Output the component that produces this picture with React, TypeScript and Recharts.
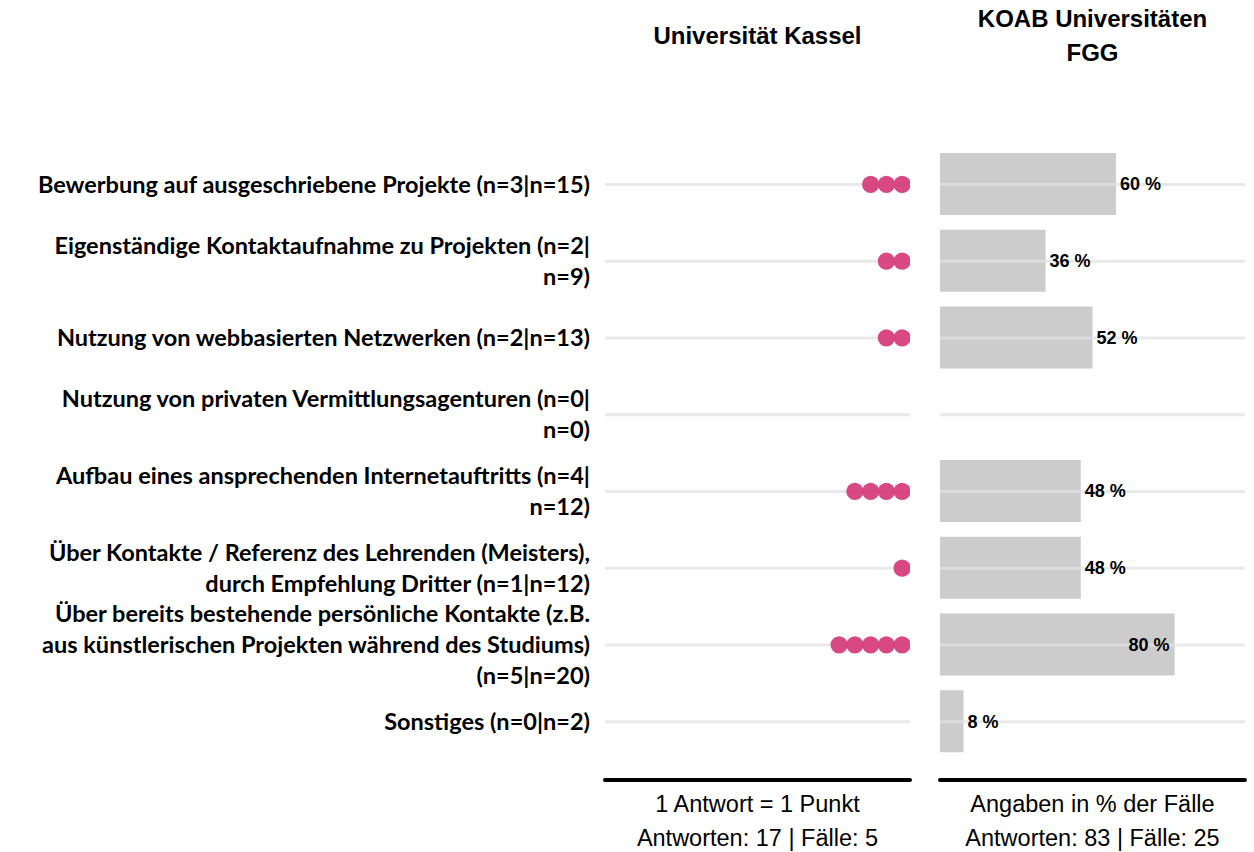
/**
 * Vergleich Projektakquise: Universität Kassel (Punkte) vs. KOAB FGG (Balken)
 */

import React from 'react'
import {
  ComposedChart,
  BarChart,
  Bar,
  Scatter,
  XAxis,
  YAxis,
  ReferenceLine,
  LabelList
} from 'recharts'

// Kategorien (Zeilenumbrüche wie im Original)
const categories = [
  'Bewerbung auf ausgeschriebene Projekte (n=3|n=15)',
  'Eigenständige Kontaktaufnahme zu Projekten (n=2|\nn=9)',
  'Nutzung von webbasierten Netzwerken (n=2|n=13)',
  'Nutzung von privaten Vermittlungsagenturen (n=0|\nn=0)',
  'Aufbau eines ansprechenden Internetauftritts (n=4|\nn=12)',
  'Über Kontakte / Referenz des Lehrenden (Meisters),\ndurch Empfehlung Dritter (n=1|n=12)',
  'Über bereits bestehende persönliche Kontakte (z.B.\naus künstlerischen Projekten während des Studiums)\n(n=5|n=20)',
  'Sonstiges (n=0|n=2)'
]

// Universität Kassel: Anzahl Antworten (1 Antwort = 1 Punkt)
const kasselCounts = [3, 2, 2, 0, 4, 1, 5, 0]

// KOAB Universitäten FGG: Angaben in % der Fälle
const koabPercent = [60, 36, 52, 0, 48, 48, 80, 8]

const panelTitles = ['Universität Kassel', 'KOAB Universitäten\nFGG']
const kasselFooter = ['1 Antwort = 1 Punkt', 'Antworten: 17 | Fälle: 5']
const koabFooter = ['Angaben in % der Fälle', 'Antworten: 83 | Fälle: 25']

const maxDots = Math.max(...kasselCounts)
const dotKeys = Array.from({ length: maxDots }, (_, i) => `dot${i}`)

// one row per category, dotN holds slot index N if that answer exists
const rows = categories.map((cat, i) => {
  const row: Record<string, any> = { cat, koab: koabPercent[i] }
  dotKeys.forEach((key, k) => {
    row[key] = k < kasselCounts[i] ? k : null
  })
  return row
})

const LABEL_FONT = 'Lato, "Open Sans", sans-serif'
const ARIAL = '"Liberation Sans", Arial, sans-serif'
const DOT_COLOR = '#d63f7d'
const BAR_COLOR = '#cccccc'
const GRID_COLOR = '#e2e2e2'

const TOP = 146
const AXIS_HEIGHT = 72
const CHART_HEIGHT = 852

const axisLineStyle = { stroke: '#000', strokeWidth: 4, strokeLinecap: 'round' as const }

// Mehrzeiliges Kategorie-Label links
const CategoryTick = ({ x, y, payload }: any) => {
  const lines = String(payload.value).split('\n')
  const lineHeight = 31
  const first = y - ((lines.length - 1) * lineHeight) / 2
  return (
    <text
      x={x}
      y={first}
      textAnchor="end"
      fontFamily={LABEL_FONT}
      fontWeight={700}
      fontSize={23.5}
      fill="#000"
    >
      {lines.map((line, i) => (
        <tspan key={i} x={x} y={first + i * lineHeight} dy="0.35em">
          {line}
        </tspan>
      ))}
    </text>
  )
}

// Zweizeilige Fußnote unter der Achse
const FooterLabel = ({ viewBox, lines }: any) => {
  if (!viewBox) return null
  const cx = viewBox.x + viewBox.width / 2
  return (
    <text textAnchor="middle" fontFamily={ARIAL} fontSize={23.5} fill="#000">
      {lines.map((line: string, i: number) => (
        <tspan key={i} x={cx} y={viewBox.y + 24 + i * 34} dy="0.35em">
          {line}
        </tspan>
      ))}
    </text>
  )
}

const DotShape = (props: any) => {
  const { cx, cy } = props
  if (cx == null || cy == null || Number.isNaN(cx)) return <g />
  return <circle cx={cx} cy={cy} r={8.6} fill={DOT_COLOR} fillOpacity={0.95} />
}

const PercentLabel = (props: any) => {
  const { x, y, width, height, value } = props
  if (!value) return null
  const inside = value >= 70
  return (
    <text
      x={inside ? x + width - 5 : x + width + 4}
      y={y + height / 2}
      dy="0.35em"
      textAnchor={inside ? 'end' : 'start'}
      fontFamily={ARIAL}
      fontWeight={700}
      fontSize={18}
      fill="#000"
    >
      {`${value} %`}
    </text>
  )
}

const Title = ({ text, center }: { text: string; center: number }) => (
  <div
    style={{
      position: 'absolute',
      left: center - 170,
      width: 340,
      top: 2,
      textAlign: 'center',
      fontFamily: ARIAL,
      fontWeight: 700,
      fontSize: 24,
      lineHeight: '34px',
      whiteSpace: 'pre-line',
      color: '#000',
      paddingTop: text.includes('\n') ? 0 : 17
    }}
  >
    {text}
  </div>
)

export default function App() {
  return (
    <div style={{ position: 'relative', width: 1254, height: CHART_HEIGHT, background: '#fff', overflow: 'hidden' }}>
      <style>{'body{margin:0}'}</style>

      <Title text={panelTitles[0]} center={757.5} />
      <Title text={panelTitles[1]} center={1092.5} />

      {/* Punkte-Panel mit Kategorie-Labels */}
      <div style={{ position: 'absolute', left: 0, top: 0 }}>
        <ComposedChart
          width={915}
          height={CHART_HEIGHT}
          layout="vertical"
          data={rows}
          margin={{ top: TOP, right: 5, bottom: 0, left: 0 }}
        >
          <XAxis
            type="number"
            domain={[-0.5, 18.87]}
            reversed
            allowDataOverflow
            tick={false}
            tickLine={false}
            axisLine={axisLineStyle}
            height={AXIS_HEIGHT}
            label={<FooterLabel lines={kasselFooter} />}
          />
          <YAxis
            type="category"
            scale="band"
            dataKey="cat"
            width={605}
            tick={<CategoryTick />}
            tickLine={false}
            tickMargin={9}
            axisLine={false}
            interval={0}
            padding={{ top: 0, bottom: 20 }}
          />
          {categories.map((c) => (
            <ReferenceLine key={c} y={c} stroke={GRID_COLOR} strokeWidth={3} strokeOpacity={0.75} />
          ))}
          {dotKeys.map((key) => (
            <Scatter key={key} dataKey={key} shape={<DotShape />} isAnimationActive={false} />
          ))}
        </ComposedChart>
      </div>

      {/* Balken-Panel KOAB */}
      <div style={{ position: 'absolute', left: 935, top: 0 }}>
        <BarChart
          width={315}
          height={CHART_HEIGHT}
          layout="vertical"
          data={rows}
          margin={{ top: TOP, right: 5, bottom: 0, left: 5 }}
        >
          <XAxis
            type="number"
            domain={[0, 104]}
            allowDataOverflow
            tick={false}
            tickLine={false}
            axisLine={axisLineStyle}
            height={AXIS_HEIGHT}
            label={<FooterLabel lines={koabFooter} />}
          />
          <YAxis type="category" dataKey="cat" hide padding={{ top: 0, bottom: 20 }} />
          <Bar dataKey="koab" fill={BAR_COLOR} barSize={62} isAnimationActive={false}>
            <LabelList dataKey="koab" content={<PercentLabel />} />
          </Bar>
          {categories.map((c) => (
            <ReferenceLine key={c} y={c} stroke={GRID_COLOR} strokeWidth={3} strokeOpacity={0.75} />
          ))}
        </BarChart>
      </div>
    </div>
  )
}
